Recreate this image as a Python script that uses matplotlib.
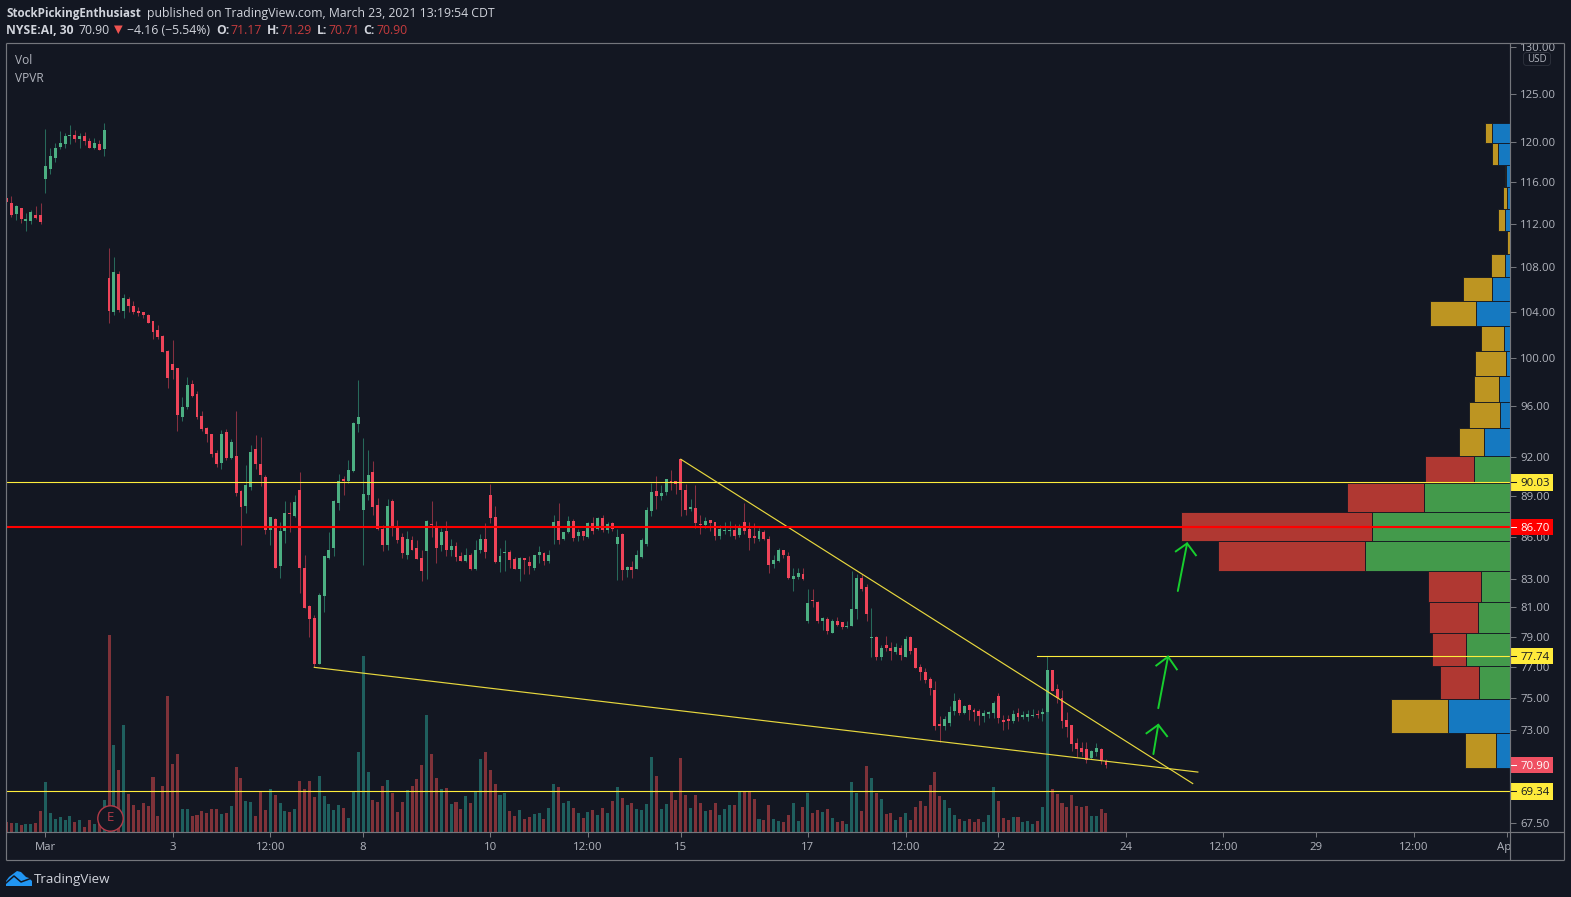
import math
import matplotlib
matplotlib.use("Agg")
import matplotlib.pyplot as plt
from matplotlib.lines import Line2D
from matplotlib.patches import Rectangle, Polygon, FancyBboxPatch
from matplotlib.ticker import NullLocator
from matplotlib.transforms import Bbox, blended_transform_factory

W, H = 1571, 897
BG = "#131722"
GRID = "#74767c"
TXT = "#b2b5be"
HEAD = "#d1d4dc"
plt.rcParams["font.family"] = ["Open Sans", "DejaVu Sans"]

opens = [114.5,114.0,112.9,113.5,112.3,112.3,112.8,112.8,116.3,117.3,
118.4,119.5,119.8,120.6,120.7,120.3,120.6,120.1,119.4,119.8,
119.3,107.0,104.0,107.4,104.05,105.1,104.5,104.05,104.0,103.7,
103.2,102.4,101.9,100.6,99.5,99.2,95.15,95.95,97.85,97.0,
95.2,94.25,93.8,92.3,91.5,93.95,91.9,92.05,89.4,88.25,
89.7,92.6,91.45,90.45,86.5,87.3,83.9,86.4,87.75,87.5,
89.45,83.75,81.1,80.3,77.25,81.8,84.45,85.15,88.5,90.3,
90.15,90.9,94.6,87.95,89.1,90.85,88.35,86.55,85.35,88.6,
86.65,85.95,84.7,85.75,85.15,84.45,84.95,86.9,86.7,85.35,
86.4,85.0,85.3,84.6,84.25,84.65,83.65,85.0,85.8,89.1,
87.45,84.15,84.8,84.85,84.35,83.65,84.45,84.15,83.75,84.65,
84.8,84.25,86.65,87.15,85.8,86.35,87.15,86.05,86.4,85.95,
87.0,86.55,87.35,86.5,87.0,85.45,86.2,83.6,83.8,83.65,
84.5,85.45,87.9,89.4,89.0,89.3,90.15,90.15,91.8,89.45,
88.05,88.1,86.9,86.85,87.2,87.05,86.05,86.4,86.4,86.5,
86.1,87.05,86.55,86.05,85.8,86.35,85.8,84.0,84.25,85.05,
84.6,82.95,83.1,83.3,80.05,81.5,81.35,80.05,80.2,79.3,
80.05,80.0,79.65,79.75,80.9,83.05,82.4,78.9,79.0,77.7,
78.45,78.3,78.0,78.3,77.7,79.0,78.25,77.0,76.7,76.25,
75.55,73.4,73.3,73.45,74.2,74.9,74.1,74.6,74.3,74.2,
73.9,74.05,74.1,75.15,73.65,73.7,73.6,74.1,73.85,73.85,
73.9,74.05,74.05,74.15,76.8,75.6,75.05,73.65,73.35,72.25,
71.9,71.85,71.3,71.7,71.85,71.17]

closes = [114.1,112.8,113.7,112.5,112.5,113.1,112.6,112.2,117.6,118.6,
119.4,119.9,120.6,120.7,120.3,120.6,120.1,119.4,119.9,119.2,
121.2,104.05,107.5,104.1,105.2,104.5,104.0,103.9,103.7,103.0,
102.2,101.8,100.5,98.35,99.0,95.3,95.95,97.75,96.85,95.15,
94.2,93.8,92.2,91.45,93.8,91.9,93.15,89.25,88.2,89.85,
92.4,91.45,90.6,86.5,87.45,83.75,86.4,87.75,87.65,88.55,
83.75,80.95,80.2,77.25,81.85,84.6,85.05,88.6,90.15,90.15,
91.0,94.65,95.15,89.15,90.6,88.2,86.55,85.35,88.25,86.8,
85.75,84.8,85.8,85.05,84.35,83.55,87.15,86.85,85.15,86.35,
85.0,85.3,84.5,84.25,84.65,83.65,85.05,85.8,84.85,87.35,
84.15,84.6,84.85,84.3,83.65,84.45,84.3,83.9,84.65,84.85,
84.25,84.7,87.05,85.75,86.35,87.15,85.9,86.35,86.05,87.0,
86.4,87.35,86.5,86.9,86.55,85.95,83.6,83.8,83.6,84.65,
85.75,87.95,89.3,89.0,89.25,90.25,90.05,89.9,89.45,87.95,
88.2,87.0,86.85,87.15,87.0,86.05,86.55,86.5,86.5,86.05,
86.7,86.4,85.9,85.9,86.4,85.8,83.95,84.3,85.05,84.65,
83.05,83.2,83.4,82.95,81.3,81.45,80.05,80.3,79.4,80.05,
79.8,79.65,79.75,80.9,83.05,82.25,80.55,79.0,77.65,78.3,
78.25,78.05,78.35,77.8,78.85,78.1,76.95,76.7,76.2,75.7,
73.3,73.3,73.7,74.15,74.85,74.1,74.55,74.3,74.15,73.9,
74.1,74.15,74.7,73.8,73.55,73.6,74.05,73.85,73.95,74.05,
73.95,73.95,74.15,76.8,75.45,75.05,73.6,73.2,72.15,71.85,
71.7,71.2,71.75,71.9,71.2,70.90]

highs = [114.7,114.7,113.8,113.5,113.0,113.3,113.7,114.0,121.3,119.4,
119.9,121.1,120.9,121.8,121.2,120.9,121.0,120.4,120.4,120.2,
122.0,109.7,108.9,107.6,105.55,105.3,104.9,104.4,104.0,103.8,
103.2,102.85,101.95,100.7,101.55,99.2,96.75,98.4,98.2,97.25,
95.6,94.35,93.8,92.5,94.1,94.2,93.4,95.6,89.45,91.35,
92.9,93.7,93.55,90.6,87.45,87.35,87.05,88.6,88.55,89.1,
90.8,84.65,81.15,80.5,82.0,84.6,86.35,88.7,90.7,90.5,
91.75,94.75,98.2,93.5,92.5,91.65,88.85,86.85,88.75,88.75,
87.2,86.25,86.4,86.05,85.75,85.0,87.2,88.6,87.15,86.65,
87.15,85.8,85.6,84.85,85.2,84.8,85.75,86.2,87.0,89.9,
88.25,85.2,85.75,85.05,84.5,84.5,84.45,84.6,84.65,85.3,
84.85,85.0,87.6,88.5,86.35,87.5,87.3,86.55,86.4,87.05,
87.45,87.45,87.6,87.05,87.05,86.55,86.25,83.9,84.25,85.0,
85.9,88.2,90.0,90.5,89.85,90.25,91.0,90.15,91.8,89.9,
88.75,89.85,87.6,87.45,87.2,87.05,86.85,87.05,87.15,86.9,
86.9,88.5,87.05,87.0,86.65,86.5,86.05,84.65,85.15,85.05,
84.9,83.75,83.75,83.75,82.25,82.3,81.45,80.35,80.35,80.2,
80.35,80.0,80.05,83.55,83.3,83.3,82.6,80.95,79.1,78.5,
79.1,78.65,78.6,78.45,79.1,79.1,78.25,77.25,76.95,76.4,
76.1,73.9,73.9,74.55,75.35,75.05,74.6,74.65,74.4,74.35,
74.3,74.2,74.85,75.35,73.95,73.95,74.3,74.4,74.2,74.3,
74.35,74.3,74.4,77.74,76.85,75.9,75.55,74.15,73.35,72.55,
72.3,72.3,71.8,72.25,71.9,71.29]

lows = [113.9,112.7,112.4,112.1,111.3,112.0,112.5,112.0,115.0,116.8,
118.0,119.3,119.4,119.8,120.0,119.4,119.7,119.4,119.3,119.2,
118.6,103.0,103.7,104.0,103.45,104.0,103.8,103.6,103.45,103.0,
101.6,101.65,100.5,97.5,98.25,94.0,94.8,95.8,96.75,95.0,
94.0,93.15,91.95,91.2,91.05,91.75,91.8,89.0,85.35,87.75,
89.45,91.05,89.75,86.2,85.35,83.75,83.05,85.5,86.35,87.45,
82.0,80.95,79.0,77.0,77.25,80.7,84.35,84.6,87.95,89.1,
89.95,90.85,93.95,83.95,88.7,87.6,86.5,84.95,85.05,86.05,
85.5,84.45,84.35,85.0,84.35,82.85,82.95,85.95,84.1,84.95,
84.6,84.6,84.25,84.25,84.15,83.6,83.6,84.8,84.45,87.0,
84.1,83.45,83.55,83.75,83.65,82.85,83.3,83.3,83.6,84.1,
83.95,84.1,85.45,85.45,85.75,86.25,85.65,85.65,85.75,85.9,
86.2,86.5,86.35,86.25,86.4,82.9,82.9,83.1,83.05,83.65,
84.45,85.3,87.5,88.05,88.7,89.1,89.45,89.15,87.5,87.6,
87.9,86.65,86.2,86.65,86.4,85.75,85.8,86.2,86.05,85.8,
85.95,86.2,85.05,85.5,85.65,85.75,83.4,83.75,84.15,84.45,
82.95,82.15,82.95,82.9,79.95,81.0,79.95,79.45,79.2,79.25,
79.75,79.55,79.6,79.75,80.2,82.15,80.05,77.65,77.45,77.5,
78.05,77.5,77.85,77.5,77.65,77.85,76.95,76.2,76.0,75.2,
73.05,72.3,73.0,73.3,73.95,73.95,74.05,73.65,73.6,73.35,
73.55,73.8,73.8,73.45,73.0,73.1,73.45,73.6,73.7,73.6,
73.85,73.8,73.6,74.0,75.45,74.7,73.15,72.6,71.75,71.4,
71.45,71.05,71.25,71.45,70.95,70.71]

volumes = [10,9,9,7,8,8,9,21,50,19,
13,15,12,16,10,12,5,12,8,10,
32,197,87,62,107,38,27,22,29,26,
55,16,46,136,68,78,23,23,16,17,
21,19,23,23,18,19,26,65,54,31,
30,16,40,22,43,37,29,21,20,23,
51,43,51,35,56,36,28,22,27,24,
14,40,80,176,60,32,30,46,52,39,
20,30,42,46,53,67,117,78,54,43,
44,28,30,23,36,29,40,73,80,62,
48,37,39,21,16,22,13,15,18,19,
13,24,48,45,29,31,24,19,14,20,
22,17,24,19,31,45,34,27,29,23,
22,28,75,56,23,28,40,32,74,37,
24,37,29,21,22,29,17,23,27,27,
40,40,40,33,13,12,27,13,11,10,
17,29,11,25,39,19,22,20,23,14,
10,11,8,50,39,21,66,54,39,33,
18,19,12,15,19,12,25,31,26,47,
60,36,32,24,17,13,11,13,10,13,
10,17,45,31,14,12,15,15,10,11,
8,11,25,150,43,38,29,25,37,26,
25,26,16,16,23,19]

x_tick_pos = [8,34,54,73,99,119,138,164,184,203,229,249,268,288,307]
x_tick_labels = ["Mar","3","12:00","8","10","12:00","15","17","12:00","22","24","12:00","29","12:00","Apr"]
y_ticks = [130,125,120,116,112,108,104,100,96,92,89,86,83,81,79,77,75,73,67.5]

vp_edges = [70.71,72.85,74.98,77.12,79.26,81.40,83.53,85.67,87.81,89.94,92.08,94.22,
            96.35,98.49,100.63,102.77,104.90,107.04,109.18,111.32,113.45,115.59,117.73,119.87,122.00]
vp_up = [14,62,31,44,32,29,145,138,86,36,26,10,11,4,6,34,18,5,0.5,5,3,4,12,18]
vp_total = [45,119,70,78,81,82,292,329,163,85,51,41,36,35,29,80,47,19,3,12,7,5,18,25]
vp_value_area = [False,False,True,True,True,True,True,True,True,True,False,False,
                 False,False,False,False,False,False,False,False,False,False,False,False]

level_white = [90.03, 69.34]
level_red = 86.70
level_high = 77.74
level_high_start = 210.9
wedge_upper_x = [138, 242.75]
wedge_upper_y = [91.8, 69.8]
wedge_lower_x = [63, 243.8]
wedge_lower_y = [77.0, 70.48]

arrow_shafts = [([235.7,237.7],[74.39,77.7]), ([234.7,235.7],[71.56,73.35]), ([239.7,241.6],[82.13,85.5])]
arrow_heads = [([235.3,237.7,239.5],[77.12,77.7,76.87]),
               ([233.3,235.7,237.5],[72.83,73.35,72.65]),
               ([239.3,241.6,243.4],[84.93,85.5,84.65])]

price_labels = [(90.03,"#ffeb3b","#131722"),(86.70,"#ff0000","#ffffff"),(77.74,"#ffeb3b","#131722"),
                (70.90,"#ef5062","#ffffff"),(69.34,"#ffeb3b","#131722")]

UP, DOWN = "#4caf82", "#ef4459"
UPW, DOWNW = "#27695a", "#853040"
VUP, VDOWN = "#1f5f5e", "#7f3239"
YEL = "#ffee3c"
TREND = "#e8d83e"
LIME = "#17cf2e"

L, R, T, B = 6.4, 1510.0, 43.3, 832.0
pos = [L / W, 1 - B / H, (R - L) / W, (B - T) / H]
N_SPAN = (R - L) / 4.887
YLIM = (67.0, 130.46)

fig = plt.figure(figsize=(W / 100, H / 100), dpi=100, facecolor=BG)

ax_vol = fig.add_axes(pos, zorder=1, facecolor=BG)
ax_vol.set_xlim(0, N_SPAN)
ax_vol.set_ylim(0, B - T)
ax_vol.axis("off")
idx = list(range(len(opens)))
is_up = [c >= o for o, c in zip(opens, closes)]
ax_vol.bar(idx, volumes, width=0.62, color=[VUP if u else VDOWN for u in is_up], linewidth=0)

ax_vp = fig.add_axes(pos, zorder=2, facecolor="none")
ax_vp.set_yscale("log")
ax_vp.set_ylim(*YLIM)
ax_vp.set_xlim(R - L, 0)
ax_vp.axis("off")
for k in range(len(vp_up)):
    lo, hi = vp_edges[k], vp_edges[k + 1]
    c_up, c_dn = ("#439a4b", "#b03832") if vp_value_area[k] else ("#1579c1", "#bd9522")
    ax_vp.barh(lo, vp_up[k], height=hi - lo, align="edge", color=c_up, edgecolor=BG, linewidth=0.6)
    ax_vp.barh(lo, vp_total[k] - vp_up[k], left=vp_up[k], height=hi - lo, align="edge",
               color=c_dn, edgecolor=BG, linewidth=0.6)

ax = fig.add_axes(pos, zorder=3, facecolor="none")
ax.set_yscale("log")
ax.set_xlim(0, N_SPAN)
ax.set_ylim(*YLIM)
for s in ax.spines.values():
    s.set_visible(False)

ax.vlines(idx, lows, highs, colors=[UPW if u else DOWNW for u in is_up], linewidth=0.75, zorder=2)
ax.bar(idx, [abs(c - o) for o, c in zip(opens, closes)], bottom=[min(o, c) for o, c in zip(opens, closes)],
       width=0.6, color=[UP if u else DOWN for u in is_up], linewidth=0, zorder=2.1)

trans_a = blended_transform_factory(ax.transAxes, ax.transData)
for lv in level_white:
    ax.plot([0, 1], [lv, lv], color=YEL, lw=0.8, transform=trans_a, zorder=3)
ax.plot([level_high_start, N_SPAN], [level_high, level_high], color=YEL, lw=0.8, zorder=3)
ax.plot([0, 1], [level_red, level_red], color="#ff0000", lw=1.5, transform=trans_a, zorder=3.1)
ax.plot(wedge_upper_x, wedge_upper_y, color=TREND, lw=0.85, zorder=3)
ax.plot(wedge_lower_x, wedge_lower_y, color=TREND, lw=0.85, zorder=3)
for (sx, sy), (hx, hy) in zip(arrow_shafts, arrow_heads):
    ax.plot(sx, sy, color=LIME, lw=1.4, zorder=3, solid_capstyle="round")
    ax.plot(hx, hy, color=LIME, lw=1.4, zorder=3, solid_joinstyle="miter")

ax.scatter([21.2], [67.8], s=335, facecolor=BG, edgecolor="#b23a48", linewidth=1.0, zorder=4)
ax.text(21.2, 67.8, "E", color="#b23a48", fontsize=9.5, ha="center", va="center", zorder=4.1)

ax.yaxis.tick_right()
ax.set_yticks(y_ticks)
ax.set_yticklabels([f"{v:.2f}" for v in y_ticks])
ax.yaxis.set_minor_locator(NullLocator())
ax.set_xticks(x_tick_pos)
ax.set_xticklabels(x_tick_labels)
ax.tick_params(axis="y", which="major", length=4.3, width=0.75, color=GRID, labelcolor=TXT,
               labelsize=8.2, pad=3.2)
ax.tick_params(axis="x", which="major", length=3.6, width=0.75, color=GRID, labelcolor=TXT,
               labelsize=8.2, pad=3.4)

# clip labels that run past the pane edges, as in the reference
for lab in ax.get_yticklabels():
    lab.set_clip_box(Bbox([[0, 0], [W, H - T]]))
    lab.set_clip_on(True)
for lab in ax.get_xticklabels():
    lab.set_clip_box(Bbox([[0, 0], [R, H]]))
    lab.set_clip_on(True)

# price label boxes at right
box_h = 8.35 / 1183.5
box_w = 42.7 / (R - L)
for p, col, tc in price_labels:
    lo, hi = p * math.exp(-box_h), p * math.exp(box_h)
    ax.add_patch(Rectangle((1, lo), box_w, hi - lo, transform=trans_a, facecolor=col,
                           edgecolor="none", clip_on=False, zorder=6))
    ax.plot([1, 1 + 5.5 / (R - L)], [p, p], color=tc, lw=0.75, transform=trans_a, clip_on=False, zorder=6.1)
    ax.text(1 + 10.3 / (R - L), p, f"{p:.2f}", color=tc, fontsize=8.2, ha="left", va="center_baseline",
            transform=trans_a, clip_on=False, zorder=6.2)

# pixel overlay for the frame, header and logo
ov = fig.add_axes([0, 0, 1, 1], zorder=10, facecolor="none")
ov.set_xlim(0, W)
ov.set_ylim(H, 0)
ov.axis("off")
fx0, fx1, fy0, fy1 = L, 1564.3, T, 860.0
for xs, ys in [([fx0, fx1], [fy0, fy0]), ([fx0, fx1], [fy1, fy1]), ([fx0, fx0], [fy0, fy1]),
               ([fx1, fx1], [fy0, fy1]), ([fx0, fx1], [B, B]), ([R, R], [fy0, fy1])]:
    ov.add_line(Line2D(xs, ys, color=GRID, lw=0.85, solid_capstyle="butt"))

ov.add_patch(FancyBboxPatch((1524, 53), 26, 12, boxstyle="round,pad=0.5,rounding_size=3",
                            facecolor=BG, edgecolor="#2a2e39", lw=0.75))
ov.text(1537, 59, "USD", color=TXT, fontsize=7, ha="center", va="center")

ov.text(15, 60.8, "Vol", color=TXT, fontsize=8.6, va="center", ha="left")
ov.text(15, 78, "VPVR", color=TXT, fontsize=8.6, va="center", ha="left")

ry = 13
ov.text(6.3, ry, "StockPickingEnthusiast", color=HEAD, fontsize=8.35, fontweight="bold", va="center")
ov.text(146.7, ry, "published on TradingView.com, March 23, 2021 13:19:54 CDT", color=HEAD, fontsize=8.8, va="center")
ry2 = 30
RED_T = "#c63c3e"
ov.text(6.3, ry2, "NYSE:AI, 30", color=HEAD, fontsize=8.7, fontweight="bold", va="center")
ov.text(78.7, ry2, "70.90", color=HEAD, fontsize=8.8, va="center")
ov.add_patch(Polygon([(114, 25.5), (122.7, 25.5), (118.3, 34)], closed=True, facecolor="#ef5350", edgecolor="none"))
ov.text(127.3, ry2, "\u22124.16 (\u22125.54%)", color=HEAD, fontsize=8.8, va="center")
for x, lab in [(216.7, "O:"), (266.7, "H:"), (316.7, "L:"), (363.3, "C:")]:
    ov.text(x, ry2, lab, color=HEAD, fontsize=8.7, fontweight="bold", va="center")
for x, val in [(230.7, "71.17"), (280.7, "71.29"), (328, "70.71"), (376, "70.90")]:
    ov.text(x, ry2, val, color=RED_T, fontsize=8.8, va="center")

ov.add_patch(Polygon([(6, 886), (6, 881), (9, 877), (13, 874), (17, 871), (21, 872), (24, 875), (26, 877),
                      (29, 878), (32, 881), (32, 886)], closed=True, facecolor="#2196f3", edgecolor="none"))
ov.add_line(Line2D([6, 14, 21, 32], [883, 876, 882, 878], color=BG, lw=1.1))
ov.text(34, 879, "TradingView", color=HEAD, fontsize=9.6, va="center", ha="left")

fig.savefig("out.png", dpi=100, facecolor=BG)
